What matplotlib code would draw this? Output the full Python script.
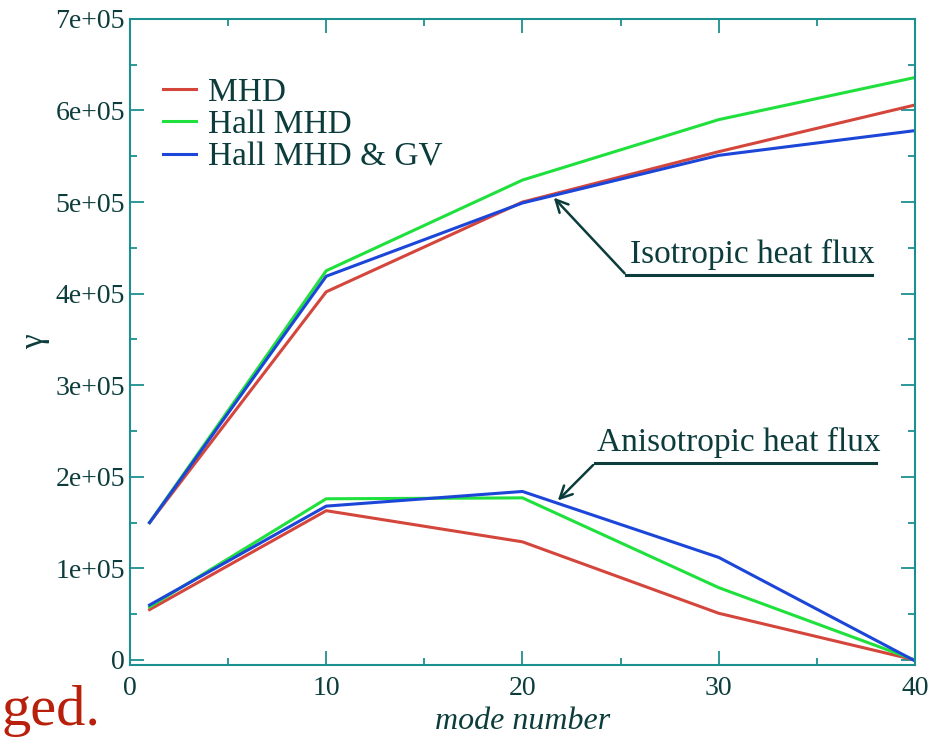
import matplotlib
matplotlib.use("Agg")
import matplotlib.pyplot as plt
from matplotlib.ticker import MultipleLocator, FuncFormatter

# mode numbers sampled
modes = [1, 10, 20, 30, 40]

# growth rates, isotropic heat flux
iso_mhd = [1.50e5, 4.02e5, 5.00e5, 5.55e5, 6.06e5]
iso_hall = [1.50e5, 4.25e5, 5.24e5, 5.90e5, 6.36e5]
iso_hall_gv = [1.50e5, 4.19e5, 4.99e5, 5.51e5, 5.78e5]

# growth rates, anisotropic heat flux
aniso_mhd = [0.55e5, 1.63e5, 1.29e5, 0.51e5, 0.0]
aniso_hall = [0.58e5, 1.76e5, 1.77e5, 0.79e5, 0.0]
aniso_hall_gv = [0.60e5, 1.68e5, 1.84e5, 1.12e5, -0.01e5]

labels = ["MHD", "Hall MHD", "Hall MHD & GV"]
colors = ["#d4463c", "#1fe03c", "#1c46d8"]

AX_COL = "#1c9090"
TXT_COL = "#0c3c3c"

plt.rcParams["font.family"] = ["Liberation Serif", "DejaVu Serif"]

fig = plt.figure(figsize=(9.39, 7.38), dpi=100)
ax = fig.add_axes([0.1384, 0.0989, 0.836, 0.8755])

iso = [iso_mhd, iso_hall, iso_hall_gv]
aniso = [aniso_mhd, aniso_hall, aniso_hall_gv]
for ys, lab, c in zip(iso, labels, colors):
    ax.plot(modes, ys, color=c, lw=2.2, label=lab)
for ys, c in zip(aniso, colors):
    ax.plot(modes, ys, color=c, lw=2.2)

ax.set_xlim(0, 40)
ax.set_ylim(-5500, 7e5)
ax.xaxis.set_major_locator(MultipleLocator(10))
ax.xaxis.set_minor_locator(MultipleLocator(5))
ax.yaxis.set_major_locator(MultipleLocator(1e5))
ax.yaxis.set_minor_locator(MultipleLocator(5e4))


def sci(v, pos):
    if abs(v) < 1:
        return "0"
    m = v / 1e5
    return f"{m:.0f}e+05"


ax.yaxis.set_major_formatter(FuncFormatter(sci))
ax.tick_params(which="both", direction="in", top=True, right=True,
               colors=AX_COL, labelcolor=TXT_COL, labelsize=20, width=1.3)
ax.tick_params(which="major", length=10)
ax.tick_params(which="minor", length=5)
ax.tick_params(axis="x", pad=8)
for s in ax.spines.values():
    s.set_color(AX_COL)
    s.set_linewidth(1.5)

ax.set_xlabel("mode number", fontsize=23, style="italic", color=TXT_COL, labelpad=4)
ax.set_ylabel("\u03b3", fontsize=24, color=TXT_COL, labelpad=4)

leg = ax.legend(loc="upper left", bbox_to_anchor=(0.025, 0.93), frameon=False,
                fontsize=24, handlelength=1.0, handletextpad=0.35,
                labelspacing=0.05, borderaxespad=0)
for t in leg.get_texts():
    t.set_color(TXT_COL)

# annotations with underline
arrow_kw = dict(arrowstyle="->", color=TXT_COL, lw=1.8, mutation_scale=22)
ax.annotate("", xy=(21.5, 5.07e5), xytext=(25.3, 4.2e5), arrowprops=arrow_kw)
ax.plot([25.3, 37.8], [4.2e5, 4.2e5], color=TXT_COL, lw=2.2)
ax.text(25.5, 4.26e5, "Isotropic heat flux", fontsize=24, color=TXT_COL,
        ha="left", va="bottom")

ax.annotate("", xy=(21.7, 1.72e5), xytext=(23.7, 2.15e5), arrowprops=arrow_kw)
ax.plot([23.7, 38.0], [2.15e5, 2.15e5], color=TXT_COL, lw=2.2)
ax.text(23.8, 2.21e5, "Anisotropic heat flux", fontsize=24, color=TXT_COL,
        ha="left", va="bottom")

# fragment of slide text under the figure
fig.text(0.002, 0.018, "ged.", fontsize=42, color="#b8200c", ha="left", va="baseline")

fig.savefig("out.png", dpi=100)
